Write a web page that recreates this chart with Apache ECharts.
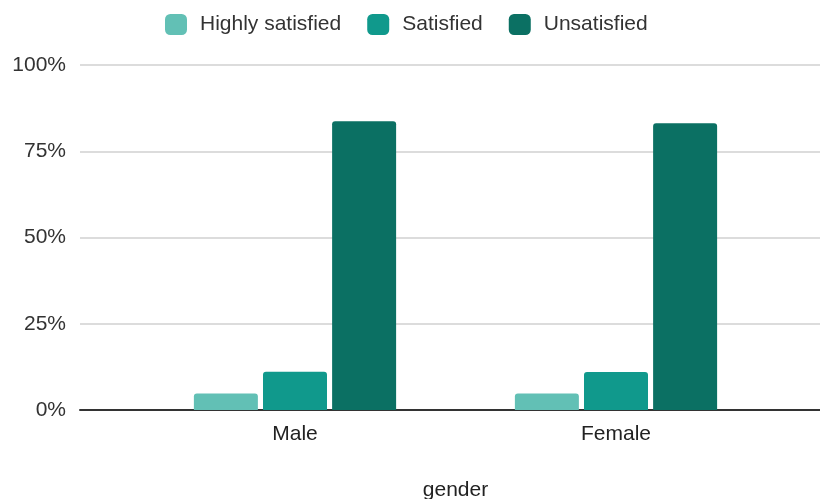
<!DOCTYPE html>
<html>
<head>
<meta charset="utf-8">
<script src="https://cdn.jsdelivr.net/npm/echarts@6/dist/echarts.min.js"></script>
<style>
  html, body { margin: 0; padding: 0; background: #fff; }
  #chart { width: 820px; height: 499px; }
</style>
</head>
<body>
<div id="chart"></div>
<script>
// data (percent)
const categories = ['Male', 'Female'];
const highlySatisfied = [4.8, 4.8];
const satisfied = [11.1, 11.0];
const unsatisfied = [83.7, 83.1];
const seriesNames = ['Highly satisfied', 'Satisfied', 'Unsatisfied'];
const colors = ['#62c0b5', '#10998c', '#0b7063'];

const font = '"Liberation Sans", Arial, sans-serif';

const chart = echarts.init(document.getElementById('chart'));

const barStyle = { borderRadius: [3, 3, 0, 0] };

const option = {
    backgroundColor: '#fff',
    color: colors,
    legend: {
        top: 9,
        left: 160,
        itemWidth: 22,
        itemHeight: 21,
        itemGap: 26,
        icon: 'roundRect',
        data: seriesNames,
        textStyle: {
            fontFamily: font,
            fontSize: 21,
            color: '#333',
            padding: [0, 0, 0, 8]
        }
    },
    grid: [
        // full-width grid for the y axis, gridlines and baseline
        { left: 80, right: 0, top: 65, bottom: 89, outerBoundsMode: 'none', containLabel: false },
        // inner grid for the bars
        { left: 134.5, right: 43.5, top: 65, bottom: 89, outerBoundsMode: 'none', containLabel: false }
    ],
    xAxis: [
        {
            gridIndex: 0,
            type: 'value',
            min: 0,
            max: 1,
            axisLine: { show: true, lineStyle: { color: '#333', width: 2 } },
            axisTick: { show: false },
            axisLabel: { show: false },
            splitLine: { show: false }
        },
        {
            gridIndex: 1,
            type: 'category',
            data: categories,
            axisLine: { show: false },
            axisTick: { show: false },
            axisLabel: {
                margin: 14,
                fontFamily: font,
                fontSize: 21,
                color: '#222'
            },
            name: 'gender',
            nameLocation: 'middle',
            nameGap: 70,
            nameTextStyle: {
                fontFamily: font,
                fontSize: 21,
                color: '#222'
            }
        }
    ],
    yAxis: [
        {
            gridIndex: 0,
            type: 'value',
            min: 0,
            max: 100,
            interval: 25,
            axisLine: { show: false },
            axisTick: { show: false },
            axisLabel: {
                formatter: '{value}%',
                margin: 14,
                fontFamily: font,
                fontSize: 21,
                color: '#333'
            },
            splitLine: { lineStyle: { color: '#d0d0d0', width: 1.5 } }
        },
        {
            gridIndex: 1,
            type: 'value',
            min: 0,
            max: 100,
            show: false,
            splitLine: { show: false }
        }
    ],
    series: [
        {
            name: seriesNames[0],
            type: 'bar',
            xAxisIndex: 1,
            yAxisIndex: 1,
            data: highlySatisfied,
            barGap: '8%',
            barCategoryGap: '37%',
            itemStyle: barStyle
        },
        {
            name: seriesNames[1],
            type: 'bar',
            xAxisIndex: 1,
            yAxisIndex: 1,
            data: satisfied,
            itemStyle: barStyle
        },
        {
            name: seriesNames[2],
            type: 'bar',
            xAxisIndex: 1,
            yAxisIndex: 1,
            data: unsatisfied,
            itemStyle: barStyle
        }
    ]
};

chart.setOption(option);
</script>
</body>
</html>
